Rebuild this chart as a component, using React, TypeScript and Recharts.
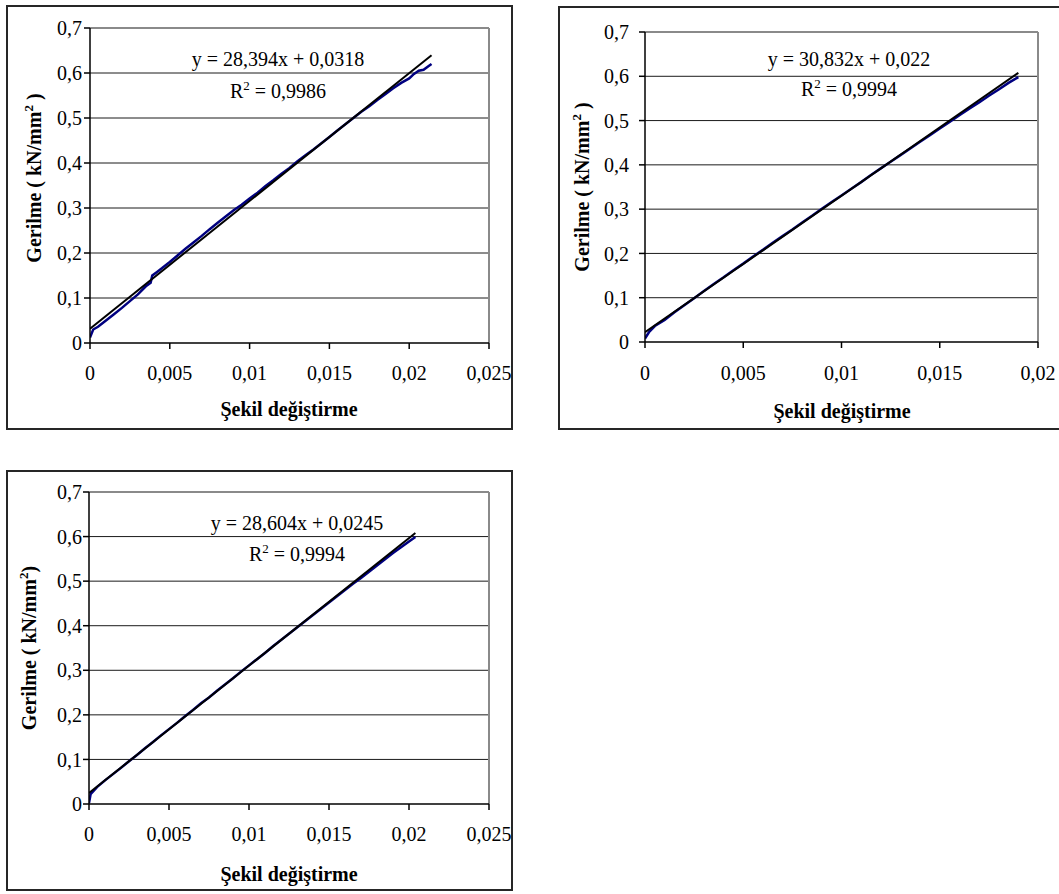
import React from 'react';
import { LineChart, Line, XAxis, YAxis, CartesianGrid, ReferenceLine } from 'recharts';

// ---- Specimen 1 ----
const strain1 = [0, 0.0002, 0.0005, 0.001, 0.0015, 0.002, 0.0025, 0.003, 0.0035, 0.0038, 0.0039, 0.0042, 0.0045, 0.005, 0.0055, 0.006, 0.0065, 0.007, 0.0075, 0.008, 0.0085, 0.009, 0.0095, 0.01, 0.0105, 0.011, 0.0115, 0.012, 0.0125, 0.013, 0.0135, 0.014, 0.0145, 0.015, 0.0155, 0.016, 0.0165, 0.017, 0.0175, 0.018, 0.0185, 0.019, 0.0195, 0.02, 0.0203, 0.0206, 0.0209, 0.0212, 0.0214];
const stress1 = [0.012, 0.03, 0.036, 0.05, 0.064, 0.078, 0.093, 0.108, 0.126, 0.134, 0.15, 0.158, 0.166, 0.18, 0.195, 0.21, 0.224, 0.238, 0.253, 0.267, 0.281, 0.295, 0.307, 0.321, 0.334, 0.349, 0.362, 0.376, 0.389, 0.404, 0.417, 0.43, 0.444, 0.458, 0.472, 0.486, 0.5, 0.514, 0.526, 0.54, 0.553, 0.566, 0.578, 0.588, 0.598, 0.605, 0.607, 0.615, 0.62];
const slope1 = 28.394;
const intercept1 = 0.0318;
const rSquared1 = 0.9986;

// ---- Specimen 2 ----
const strain2 = [0, 0.0002, 0.0005, 0.001, 0.0015, 0.002, 0.0025, 0.003, 0.0035, 0.004, 0.0045, 0.005, 0.0055, 0.006, 0.0065, 0.007, 0.0075, 0.008, 0.0085, 0.009, 0.0095, 0.01, 0.0105, 0.011, 0.0115, 0.012, 0.0125, 0.013, 0.0135, 0.014, 0.0145, 0.015, 0.0155, 0.016, 0.0165, 0.017, 0.0175, 0.018, 0.0185, 0.019];
const stress2 = [0.008, 0.022, 0.036, 0.05, 0.067, 0.083, 0.099, 0.115, 0.131, 0.146, 0.162, 0.177, 0.193, 0.208, 0.224, 0.239, 0.254, 0.27, 0.285, 0.301, 0.316, 0.331, 0.346, 0.361, 0.377, 0.392, 0.407, 0.422, 0.437, 0.452, 0.467, 0.482, 0.497, 0.512, 0.527, 0.541, 0.556, 0.57, 0.585, 0.598];
const slope2 = 30.832;
const intercept2 = 0.022;
const rSquared2 = 0.9994;

// ---- Specimen 3 ----
const strain3 = [0, 0.0001, 0.0005, 0.001, 0.0015, 0.002, 0.0025, 0.003, 0.0035, 0.004, 0.0045, 0.005, 0.0055, 0.006, 0.0065, 0.007, 0.0075, 0.008, 0.0085, 0.009, 0.0095, 0.01, 0.0105, 0.011, 0.0115, 0.012, 0.0125, 0.013, 0.0135, 0.014, 0.0145, 0.015, 0.0155, 0.016, 0.0165, 0.017, 0.0175, 0.018, 0.0185, 0.019, 0.0195, 0.02, 0.0204];
const stress3 = [0.002, 0.022, 0.038, 0.053, 0.067, 0.081, 0.096, 0.11, 0.125, 0.139, 0.154, 0.168, 0.182, 0.197, 0.211, 0.226, 0.239, 0.254, 0.268, 0.282, 0.297, 0.311, 0.325, 0.339, 0.354, 0.368, 0.382, 0.396, 0.41, 0.424, 0.438, 0.452, 0.466, 0.48, 0.494, 0.507, 0.521, 0.535, 0.549, 0.563, 0.576, 0.589, 0.599];
const slope3 = 28.604;
const intercept3 = 0.0245;
const rSquared3 = 0.9994;

// ---- Axis ticks ----
const yTicks = [0, 0.1, 0.2, 0.3, 0.4, 0.5, 0.6, 0.7];
const yGridValues = [0.1, 0.2, 0.3, 0.4, 0.5, 0.6];
const xTicksWide = [0, 0.005, 0.01, 0.015, 0.02, 0.025];
const xTicksNarrow = [0, 0.005, 0.01, 0.015, 0.02];

const xTitle = 'Şekil değiştirme';
// y-axis title pieces: text before the superscript, the superscript, text after
const yTitleHead = 'Gerilme ( kN/mm';
const yTitleTailSpaced = ' )';
const yTitleTailTight = ')';

const FONT = '"Liberation Serif", "Times New Roman", serif';
const DATA_BLUE = '#000080';
const SUP_SIZE = 13;
const SUP_RISE = 8;

const decimalComma = (v: number) => String(v).replace('.', ',');

type Rect = { left: number; top: number; width: number; height: number };
type Plot = { left: number; top: number; right: number; bottom: number };
type Pt = { x: number; y: number };

interface PanelProps {
  box: Rect;
  openRight?: boolean;
  plot: Plot;
  xMax: number;
  xTicks: number[];
  strain: number[];
  stress: number[];
  slope: number;
  intercept: number;
  rSquared: number;
  yTitleTail: string;
  yTickMargin: number;
  xTickMargin: number;
  eqPos: { cx: number; y1: number; y2: number };
  yTitlePos: { x: number; cy: number };
  xTitlePos: { cx: number; y: number };
}

const Y_AXIS_W = 50;
const X_AXIS_H = 60;

function StressStrainPanel(p: PanelProps) {
  const measured: Pt[] = p.strain.map((x, i) => ({ x, y: p.stress[i] }));
  const lastStrain = p.strain[p.strain.length - 1];
  // Linear trendline from the fitted equation, over the measured strain range
  const trend: Pt[] = [0, lastStrain].map((x) => ({ x, y: p.slope * x + p.intercept }));

  const margin = {
    top: p.plot.top - p.box.top,
    left: p.plot.left - p.box.left - Y_AXIS_W,
    right: p.box.width - (p.plot.right - p.box.left),
    bottom: p.box.height - (p.plot.bottom - p.box.top) - X_AXIS_H,
  };

  const tickStyle = { fontFamily: FONT, fontSize: 20, fill: '#000' };
  const ox = p.box.left;
  const oy = p.box.top;
  const ytx = p.yTitlePos.x - ox;
  const yty = p.yTitlePos.cy - oy;
  const frame = '2px solid #262626';

  return (
    <div
      style={{
        position: 'absolute',
        left: p.box.left,
        top: p.box.top,
        width: p.box.width,
        height: p.box.height,
      }}
    >
      <div
        style={{
          position: 'absolute',
          inset: 0,
          borderTop: frame,
          borderLeft: frame,
          borderBottom: frame,
          borderRight: p.openRight ? 'none' : frame,
          boxSizing: 'border-box',
          background: '#fff',
        }}
      />
      <div style={{ position: 'absolute', left: 0, top: 0 }}>
        <LineChart width={p.box.width} height={p.box.height} margin={margin}>
          <CartesianGrid vertical={false} horizontalValues={yGridValues} stroke="#1a1a1a" strokeWidth={1} />
          <ReferenceLine y={0.7} stroke="#8a8a8a" strokeWidth={2} />
          <ReferenceLine x={p.xMax} stroke="#8a8a8a" strokeWidth={2} />
          <XAxis
            type="number"
            dataKey="x"
            domain={[0, p.xMax]}
            ticks={p.xTicks}
            tickFormatter={decimalComma}
            allowDataOverflow
            height={X_AXIS_H}
            stroke="#000"
            strokeWidth={1.5}
            tickSize={6}
            tickMargin={p.xTickMargin}
            tick={tickStyle}
            interval={0}
          />
          <YAxis
            type="number"
            dataKey="y"
            domain={[0, 0.7]}
            ticks={yTicks}
            tickFormatter={decimalComma}
            width={Y_AXIS_W}
            stroke="#000"
            strokeWidth={1.5}
            tickSize={6}
            tickMargin={p.yTickMargin}
            tick={tickStyle}
            interval={0}
          />
          <Line
            data={measured}
            dataKey="y"
            type="linear"
            stroke={DATA_BLUE}
            strokeWidth={2.5}
            dot={false}
            activeDot={false}
            isAnimationActive={false}
          />
          <Line
            data={trend}
            dataKey="y"
            type="linear"
            stroke="#000"
            strokeWidth={2}
            dot={false}
            activeDot={false}
            isAnimationActive={false}
          />
        </LineChart>
      </div>
      <svg
        width={p.box.width}
        height={p.box.height}
        style={{ position: 'absolute', left: 0, top: 0, pointerEvents: 'none' }}
      >
        <g fontFamily={FONT} fontSize={20} fill="#000">
          <text x={p.eqPos.cx - ox} y={p.eqPos.y1 - oy} textAnchor="middle">
            {`y = ${decimalComma(p.slope)}x + ${decimalComma(p.intercept)}`}
          </text>
          <text x={p.eqPos.cx - ox} y={p.eqPos.y2 - oy} textAnchor="middle">
            R
            <tspan fontSize={SUP_SIZE} dy={-SUP_RISE}>2</tspan>
            <tspan dy={SUP_RISE}>{` = ${decimalComma(p.rSquared)}`}</tspan>
          </text>
          <text
            x={p.xTitlePos.cx - ox}
            y={p.xTitlePos.y - oy}
            textAnchor="middle"
            fontWeight="bold"
          >
            {xTitle}
          </text>
          <text
            x={ytx}
            y={yty}
            textAnchor="middle"
            fontWeight="bold"
            transform={`rotate(-90 ${ytx} ${yty})`}
          >
            {yTitleHead}
            <tspan fontSize={SUP_SIZE} dy={-SUP_RISE}>2</tspan>
            <tspan dy={SUP_RISE}>{p.yTitleTail}</tspan>
          </text>
        </g>
      </svg>
    </div>
  );
}

export default function App() {
  return (
    <div
      style={{
        position: 'absolute',
        left: 0,
        top: 0,
        width: 1059,
        height: 894,
        overflow: 'hidden',
        background: '#fff',
      }}
    >
      <StressStrainPanel
        box={{ left: 6, top: 5, width: 507, height: 425 }}
        plot={{ left: 90, top: 28, right: 489, bottom: 343 }}
        xMax={0.025}
        xTicks={xTicksWide}
        strain={strain1}
        stress={stress1}
        slope={slope1}
        intercept={intercept1}
        rSquared={rSquared1}
        yTitleTail={yTitleTailSpaced}
        yTickMargin={2}
        xTickMargin={17}
        eqPos={{ cx: 278, y1: 66, y2: 98 }}
        yTitlePos={{ x: 41, cy: 178 }}
        xTitlePos={{ cx: 289, y: 416 }}
      />
      <StressStrainPanel
        box={{ left: 558, top: 6, width: 501, height: 424 }}
        openRight
        plot={{ left: 645, top: 32, right: 1038, bottom: 342 }}
        xMax={0.02}
        xTicks={xTicksNarrow}
        strain={strain2}
        stress={stress2}
        slope={slope2}
        intercept={intercept2}
        rSquared={rSquared2}
        yTitleTail={yTitleTailSpaced}
        yTickMargin={10}
        xTickMargin={18}
        eqPos={{ cx: 849, y1: 66, y2: 96 }}
        yTitlePos={{ x: 589, cy: 187 }}
        xTitlePos={{ cx: 842, y: 418 }}
      />
      <StressStrainPanel
        box={{ left: 6, top: 470, width: 507, height: 421 }}
        plot={{ left: 89, top: 492, right: 489, bottom: 804 }}
        xMax={0.025}
        xTicks={xTicksWide}
        strain={strain3}
        stress={stress3}
        slope={slope3}
        intercept={intercept3}
        rSquared={rSquared3}
        yTitleTail={yTitleTailTight}
        yTickMargin={1}
        xTickMargin={17}
        eqPos={{ cx: 297, y1: 530, y2: 561 }}
        yTitlePos={{ x: 36, cy: 648 }}
        xTitlePos={{ cx: 289, y: 881 }}
      />
    </div>
  );
}
